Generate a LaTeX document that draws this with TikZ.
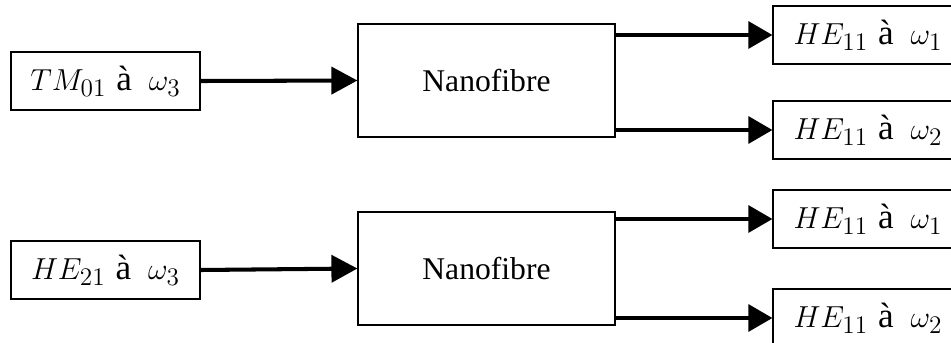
\documentclass[tikz,border=0pt]{standalone}
\usepackage{fontspec}
\setmainfont{Liberation Serif}
\DeclareMathSizes{18}{19}{14}{11}
\usepackage{tikz}
\usetikzlibrary{arrows.meta, positioning}
\tikzset{
  modebox/.style={rectangle, draw=black, fill=white, line width=0.7pt, minimum width=3.78cm, minimum height=1.16cm, inner sep=0pt, font=\fontsize{18}{22}\selectfont},
  outbox/.style={modebox, minimum width=3.8cm},
  fibrebox/.style={rectangle, draw=black, fill=white, line width=0.7pt, minimum width=5.14cm, minimum height=2.26cm, inner sep=0pt, font=\fontsize{18}{22}\selectfont},
  arrow/.style={-{Triangle[length=0.52cm, width=0.54cm]}, line width=2.3pt},
  arrowout/.style={-{Triangle[length=0.48cm, width=0.54cm]}, line width=1.8pt}
}
\newcommand{\modelabel}[3]{$#1_{#2}$\hspace{0.2cm}{\fontsize{20}{22}\selectfont\`{a}}\hspace{0.34cm}$\omega_{#3}$}

\begin{document}
\begin{tikzpicture}[x=0.02cm, y=-0.02cm]
  \useasboundingbox (0,0) rectangle (951,342);
  \clip (0,0) rectangle (951,342);

  % First nanofibre: TM01 input
  \node[modebox] (in1) at (105.5,81) {\modelabel{TM}{01}{3}};
  \node[fibrebox] (fib1) at (486.5,80.5) {Nanofibre};
  \node[outbox] (out1) at (868,35) {\modelabel{HE}{11}{1}};
  \node[outbox] (out2) at (868,130) {\modelabel{HE}{11}{2}};
  \draw[arrow] (in1.east) -- (fib1.west);
  \draw[arrowout] (fib1.east |- out1.west) -- (out1.west);
  \draw[arrowout] (fib1.east |- out2.west) -- (out2.west);

  % Second nanofibre: HE21 input
  \node[modebox] (in2) at (105.5,270) {\modelabel{HE}{21}{3}};
  \node[fibrebox] (fib2) at (486.5,268.5) {Nanofibre};
  \node[outbox] (out3) at (868,219) {\modelabel{HE}{11}{1}};
  \node[outbox] (out4) at (868,318) {\modelabel{HE}{11}{2}};
  \draw[arrow] (in2.east) -- (fib2.west);
  \draw[arrowout] (fib2.east |- out3.west) -- (out3.west);
  \draw[arrowout] (fib2.east |- out4.west) -- (out4.west);
\end{tikzpicture}
\end{document}
